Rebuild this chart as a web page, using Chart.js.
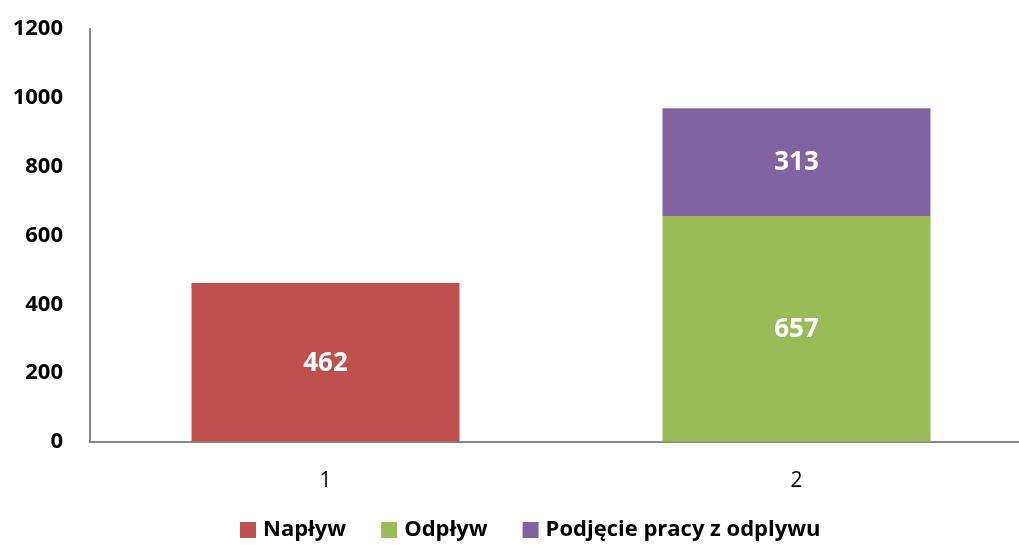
<!DOCTYPE html>
<html>
<head>
<meta charset="utf-8">
<script src="https://cdn.jsdelivr.net/npm/chart.js@4"></script>
<style>
  html, body { margin: 0; padding: 0; background: #fff; }
  #wrap { position: relative; width: 1019px; height: 545px; overflow: hidden; }
  #inner { position: absolute; left: 0; top: -11px; width: 1032px; height: 556px; }
</style>
</head>
<body>
<div id="wrap"><div id="inner"><canvas id="chart"></canvas></div></div>
<script>
// Dane wykresu
const kategorie = ['1', '2'];
const naplyw = [462, null];
const odplyw = [null, 657];
const podjecie = [null, 313];
const etykietyY = [0, 200, 400, 600, 800, 1000, 1200];

const FONT = "'Open Sans', 'DejaVu Sans', sans-serif";
const PRZESUNIECIE = 11; // canvas przesunięty w górę

// Etykiety wartości w środku słupków
const etykietyPlugin = {
  id: 'etykiety',
  afterDatasetsDraw(chart) {
    const ctx = chart.ctx;
    ctx.save();
    ctx.fillStyle = '#ffffff';
    ctx.font = 'bold 26px ' + FONT;
    ctx.textAlign = 'center';
    ctx.textBaseline = 'middle';
    chart.data.datasets.forEach((ds, i) => {
      chart.getDatasetMeta(i).data.forEach((bar, j) => {
        const v = ds.data[j];
        if (v == null) return;
        const p = bar.getProps(['x', 'y', 'base'], true);
        ctx.fillText(String(v), p.x, (p.y + p.base) / 2 + 1);
      });
    });
    ctx.restore();
  }
};

// Legenda rysowana ręcznie pod wykresem
const legendaPlugin = {
  id: 'legenda',
  afterDraw(chart) {
    const ctx = chart.ctx;
    ctx.save();
    ctx.font = 'bold 22px ' + FONT;
    ctx.textBaseline = 'middle';
    ctx.textAlign = 'left';
    const y = 530 + PRZESUNIECIE;
    let x = 240;
    chart.data.datasets.forEach(ds => {
      ctx.fillStyle = ds.backgroundColor;
      ctx.fillRect(x, y - 8, 16, 16);
      x += 23;
      ctx.fillStyle = '#000';
      ctx.fillText(ds.label, x, y);
      x += ctx.measureText(ds.label).width + 35;
    });
    ctx.restore();
  }
};

new Chart(document.getElementById('chart').getContext('2d'), {
  type: 'bar',
  data: {
    labels: kategorie,
    datasets: [
      { label: 'Napływ', data: naplyw, backgroundColor: '#C0504D' },
      { label: 'Odpływ', data: odplyw, backgroundColor: '#9BBB59' },
      { label: 'Podjęcie pracy z odplywu', data: podjecie, backgroundColor: '#8064A2' }
    ]
  },
  options: {
    responsive: true,
    maintainAspectRatio: false,
    animation: false,
    categoryPercentage: 1,
    barPercentage: 0.569,
    layout: { padding: { top: 0, right: 0, left: 0, bottom: 24 } },
    plugins: {
      tooltip: { enabled: false },
      legend: { display: false }
    },
    scales: {
      x: {
        stacked: true,
        grid: { display: false, drawTicks: false },
        border: { display: true, color: '#868686', width: 2 },
        ticks: {
          padding: 27,
          color: '#000',
          font: { family: FONT, size: 21 }
        }
      },
      y: {
        stacked: true,
        min: 0,
        max: 1200,
        afterBuildTicks(scale) {
          scale.ticks = etykietyY.map(v => ({ value: v }));
        },
        afterFit(scale) { scale.width = 90; },
        grid: { display: false, drawTicks: false },
        border: { display: true, color: '#868686', width: 2 },
        ticks: {
          padding: 27,
          color: '#000',
          callback: v => String(v),
          font: { family: FONT, size: 22, weight: 'bold' }
        }
      }
    }
  },
  plugins: [etykietyPlugin, legendaPlugin]
});
</script>
</body>
</html>
